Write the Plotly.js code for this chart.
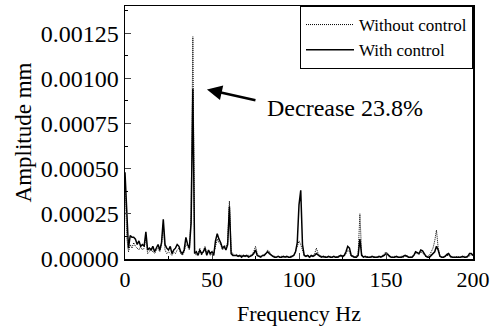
<!DOCTYPE html>
<html>
<head>
<meta charset="utf-8">
<script src="https://cdn.plot.ly/plotly-3.0.1.min.js"></script>
<style>html,body{margin:0;padding:0;background:#fff;}</style>
</head>
<body>
<div id="chart" style="width:494px;height:326px"></div>
<script>
// Frequency axis (Hz), 1 Hz steps from 0 to 200
const frequency = [];
for (let f = 0; f <= 200; f++) frequency.push(f);

// Amplitude (mm) without control
const withoutControl = [
0.00045,0.00012,0.00004,0.00008,0.00006,0.00009,0.00007,0.00006,0.00005,0.00007,
0.00005,0.00006,0.00012,0.00003,0.00004,0.00006,0.00004,0.00003,0.00005,0.00006,
0.00004,0.00008,0.00019,0.00005,0.00003,0.00004,0.00003,0.00002,0.00004,0.00003,
0.00005,0.00006,0.00003,0.00002,0.00004,0.00008,0.00007,0.00005,0.00025,0.00123,
0.00004,0.00002,0.00003,0.00006,0.00002,0.00005,0.00007,0.00003,0.00004,0.00002,
0.00003,0.00003,0.00007,0.00011,0.00009,0.00008,0.00005,0.00006,0.00007,0.00009,
0.00032,0.00004,0.00003,0.00002,0.000025,0.00002,0.000015,0.00002,0.000015,0.00002,
0.000015,0.00002,0.00002,0.000025,0.00004,0.00007,0.00003,0.00002,0.000015,0.00002,
0.000025,0.00003,0.00005,0.00004,0.00002,0.000015,0.000015,0.00001,0.000015,0.00001,
0.000015,0.00001,0.000015,0.00001,0.00001,0.000015,0.00001,0.00002,0.00004,0.00007,
0.0001,0.00008,0.00005,0.00002,0.000015,0.00002,0.000015,0.00001,0.00002,0.00003,
0.00006,0.00003,0.00002,0.000015,0.00001,0.000015,0.00001,0.00001,0.000015,0.00001,
0.00001,0.000015,0.00001,0.00001,0.000015,0.00001,0.000015,0.00003,0.00005,0.00004,
0.000015,0.00001,0.00001,0.000015,0.00003,0.00025,0.00003,0.00001,0.00001,0.000015,
0.00001,0.00001,0.00001,0.000015,0.00001,0.00001,0.00001,0.000015,0.00002,0.00003,
0.00004,0.00003,0.00002,0.00001,0.00001,0.000015,0.00001,0.00001,0.00001,0.000015,
0.00001,0.000015,0.00002,0.00001,0.00001,0.000015,0.00002,0.00003,0.00003,0.000025,
0.00004,0.000035,0.00002,0.00001,0.000015,0.00002,0.00004,0.00006,0.0001,0.00016,
0.00006,0.000015,0.00001,0.00001,0.000015,0.00002,0.00002,0.00001,0.00001,0.00001,
0.00001,0.000015,0.00001,0.00001,0.00001,0.000015,0.00001,0.00001,0.00002,0.000025,
0.000015
];

// Amplitude (mm) with control
const withControl = [
0.00048,0.00022,0.00006,0.00013,0.00012,0.00012,0.00011,0.00008,0.0001,0.00007,
0.00008,0.00007,0.00015,0.00005,0.00006,0.00005,0.00007,0.00004,0.00006,0.00008,
0.00005,0.00009,0.00022,0.00008,0.00006,0.00005,0.00007,0.00003,0.00005,0.00006,
0.00008,0.00007,0.00004,0.00003,0.00005,0.00012,0.00008,0.00006,0.0002,0.00094,
0.00003,0.00004,0.00002,0.00005,0.00003,0.00004,0.00006,0.00002,0.00005,0.00003,
0.00004,0.00002,0.0001,0.00014,0.00011,0.00009,0.00006,0.00007,0.00005,0.00008,
0.00029,0.00003,0.00002,0.00002,0.00002,0.000015,0.00002,0.00001,0.00002,0.000015,
0.00002,0.00001,0.000015,0.00002,0.00003,0.00005,0.00002,0.000015,0.00001,0.00002,
0.00002,0.00003,0.00004,0.00003,0.00002,0.000015,0.00001,0.00001,0.000015,0.00001,
0.00001,0.000015,0.00001,0.000015,0.00001,0.00001,0.000015,0.00002,0.00004,0.00009,
0.0003,0.00038,0.00008,0.00002,0.000015,0.00002,0.00001,0.00002,0.000015,0.00002,
0.00003,0.00002,0.000015,0.00001,0.000015,0.00001,0.00001,0.000015,0.00001,0.00001,
0.000015,0.00001,0.00001,0.000015,0.00002,0.000015,0.00002,0.00004,0.00007,0.00006,
0.00002,0.000015,0.00001,0.00001,0.00002,0.00011,0.00002,0.00001,0.000015,0.00001,
0.00001,0.00001,0.000015,0.00001,0.00001,0.00001,0.000015,0.00001,0.000015,0.00002,
0.00003,0.000025,0.000015,0.00001,0.00001,0.00001,0.000015,0.00001,0.00001,0.00001,
0.000015,0.00002,0.000015,0.00001,0.00001,0.00001,0.00002,0.00004,0.000035,0.00003,
0.00005,0.000045,0.00003,0.000015,0.00001,0.00001,0.00002,0.00003,0.00004,0.00007,
0.00005,0.000015,0.00001,0.00001,0.000015,0.000025,0.00003,0.000015,0.00001,0.00001,
0.00001,0.00001,0.00001,0.00001,0.000015,0.00001,0.00001,0.000015,0.00003,0.00003,
0.00002
];

const seriesNames = ["Without control", "With control"];
const yTickVals = [0, 0.00025, 0.0005, 0.00075, 0.001, 0.00125];
const xTickVals = [0, 50, 100, 150, 200];
const annotationText = "Decrease 23.8%";

const families = ["Times New Roman"];

const traces = [
  {x: frequency, y: withoutControl, name: seriesNames[0], type: "scatter", mode: "lines",
   line: {color: "#000", width: 1, dash: "1px,1px"}},
  {x: frequency, y: withControl, name: seriesNames[1], type: "scatter", mode: "lines",
   line: {color: "#000", width: 1.5}}
];

const layout = {
  width: 494, height: 326,
  margin: {l: 125, r: 21, t: 6, b: 67},
  showlegend: true,
  legend: {x: 1, y: 1, xanchor: "right", yanchor: "top", bgcolor: "#fff",
           bordercolor: "#000", borderwidth: 1, font: {family: families[0], size: 17, color: "#000"},
           tracegroupgap: 0, itemwidth: 48},
  xaxis: {range: [0, 200], tickvals: xTickVals, ticks: "inside", ticklen: 6, tickwidth: 1,
          showline: true, linewidth: 1.5, linecolor: "#000", mirror: true, showgrid: false, zeroline: false,
          minor: {ticks: "inside", ticklen: 3, dtick: 25, tickcolor: "#000"},
          tickfont: {family: families[0], size: 22, color: "#000"},
          title: {text: "Frequency Hz", font: {family: families[0], size: 22, color: "#000"}, standoff: 14}},
  yaxis: {range: [0, 0.0014], tickvals: yTickVals, tickformat: ".5f", ticks: "inside", ticklen: 6, tickwidth: 1,
          showline: true, linewidth: 1.5, linecolor: "#000", mirror: true, showgrid: false, zeroline: false,
          minor: {ticks: "inside", ticklen: 3, dtick: 0.000125, tickcolor: "#000"},
          tickfont: {family: families[0], size: 24, color: "#000"},
          title: {text: "Amplitude mm", font: {family: families[0], size: 23, color: "#000"}, standoff: 2}},
  annotations: [
    {x: 47.1, y: 0.000938, xref: "x", yref: "y", text: "", showarrow: true,
     axref: "pixel", ayref: "pixel", ax: 50, ay: 11, arrowhead: 2, arrowsize: 1.2, arrowwidth: 2.5, arrowcolor: "#000"},
    {x: 126.4, y: 0.000838, xref: "x", yref: "y", text: annotationText, showarrow: false,
     font: {family: families[0], size: 24, color: "#000"}}
  ]
};

Plotly.newPlot("chart", traces, layout, {staticPlot: true});
</script>
</body>
</html>
